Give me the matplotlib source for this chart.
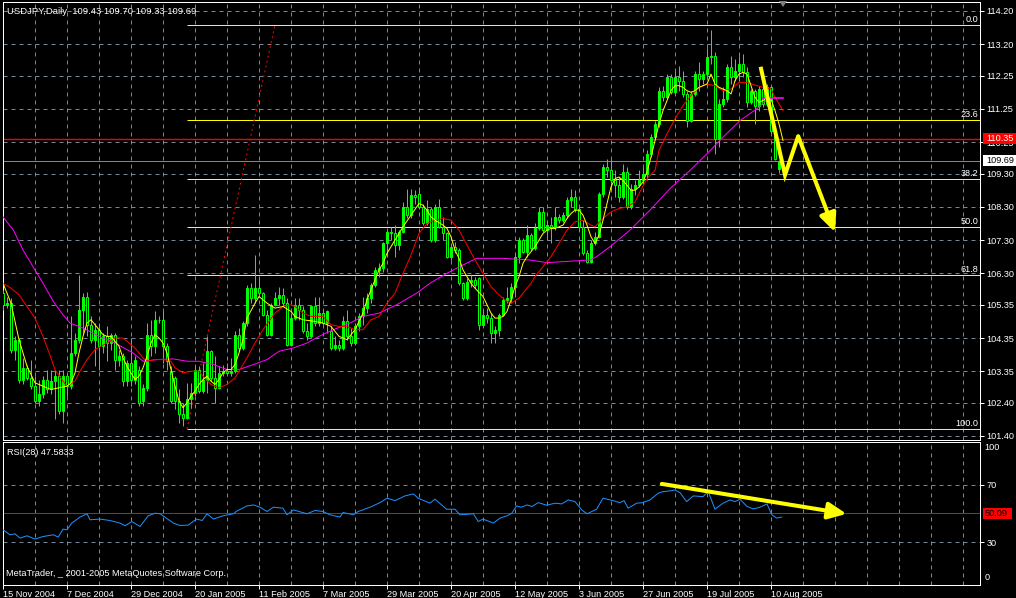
import matplotlib
matplotlib.use('Agg')
import matplotlib.pyplot as plt
import matplotlib.transforms as mtransforms
from matplotlib.patches import Rectangle, Polygon, FancyArrowPatch
import numpy as np

plt.rcParams['font.family'] = ['Liberation Sans', 'DejaVu Sans']

# ---------------- data ----------------
opens = [105.70,105.35,105.40,104.00,104.30,103.10,103.45,103.15,102.90,102.45,
         102.65,103.10,102.80,103.05,103.20,102.15,103.20,102.90,103.90,104.30,
         105.20,105.60,104.75,104.30,104.60,104.10,104.40,104.20,104.45,103.70,
         103.80,103.05,103.60,103.10,103.40,102.45,102.85,104.45,104.10,104.90,
         104.90,104.10,103.35,103.15,102.45,102.05,101.95,102.50,102.70,103.40,
         102.75,103.10,103.95,103.15,102.85,103.30,103.35,103.30,103.35,104.45,
         104.05,104.80,105.85,105.55,105.85,105.70,105.05,104.45,105.35,105.55,
         105.65,105.40,104.15,104.95,105.35,105.20,104.55,104.40,105.30,104.80,
         105.10,104.80,104.55,104.05,104.15,104.05,104.85,104.40,104.20,104.70,
         105.00,105.25,105.55,105.95,106.40,106.45,107.20,107.55,107.50,107.15,
         107.55,108.30,108.05,108.65,108.70,108.30,107.80,108.25,107.30,108.30,
         107.70,107.50,106.80,107.10,107.00,106.00,105.55,106.05,106.10,106.15,
         104.75,105.05,104.95,104.50,104.60,105.05,105.50,105.55,105.90,106.80,
         107.30,106.95,107.45,107.05,107.65,108.15,107.60,107.75,107.70,108.00,
         107.90,108.05,108.50,108.60,108.25,107.70,106.90,106.65,107.20,107.40,
         108.70,109.50,109.40,109.10,108.95,108.60,109.35,108.30,108.85,108.95,
         109.10,109.30,109.90,110.40,110.80,111.80,111.60,112.20,111.75,112.20,
         112.10,111.70,110.90,111.70,112.30,112.15,112.30,112.80,112.85,110.35,
         111.40,111.55,112.50,112.20,112.40,112.60,112.35,111.45,111.80,111.35,
         111.85,111.40,111.90,110.60,109.43]
highs = [105.80,105.60,105.55,104.40,104.35,103.75,103.55,103.70,103.20,103.10,
         103.20,103.40,103.40,103.40,103.40,103.40,103.30,105.00,104.50,106.25,
         105.70,105.75,105.00,104.80,104.80,104.50,104.70,104.50,104.50,104.00,
         103.90,103.70,104.35,103.80,103.50,102.95,104.80,104.90,105.15,105.00,
         105.15,104.20,103.50,103.20,102.80,102.40,103.00,103.00,103.50,103.50,
         103.60,104.40,104.00,103.80,103.50,103.55,103.60,103.75,104.55,104.65,
         104.85,105.95,106.00,106.85,106.20,105.75,105.20,105.40,105.75,105.90,
         105.85,105.55,105.10,105.55,105.55,105.30,104.80,105.35,105.60,105.60,
         105.20,105.20,104.70,104.40,104.30,105.00,105.20,104.65,104.80,105.10,
         105.60,105.70,106.00,106.50,106.60,107.25,107.60,107.70,107.75,107.60,
         108.45,108.85,108.85,108.80,108.90,108.40,108.50,108.30,108.40,108.55,
         108.00,107.55,107.20,107.25,107.05,106.05,106.15,106.25,106.20,106.20,
         105.20,105.25,105.10,104.70,105.10,105.60,105.90,106.00,106.90,107.40,
         107.35,107.75,107.50,107.80,108.30,108.30,107.90,108.00,108.30,108.10,
         108.15,108.60,108.85,108.80,108.30,107.90,107.00,107.30,107.55,108.75,
         109.60,109.75,109.75,109.40,109.20,109.60,109.50,109.00,109.10,109.40,
         109.50,110.00,110.50,110.90,111.90,111.95,112.30,112.30,112.40,112.55,
         112.40,111.80,111.80,112.40,112.65,112.40,113.10,113.63,112.95,111.55,
         111.90,112.60,112.85,112.75,112.85,112.90,112.50,111.85,111.85,111.95,
         111.95,112.00,111.95,110.70,109.70]
lows = [105.20,105.25,103.90,103.70,103.00,102.95,103.10,102.80,102.40,102.30,
        102.55,102.70,102.65,101.90,102.05,101.80,102.60,102.80,103.80,104.20,
        104.50,104.40,104.20,103.50,103.40,103.90,103.65,104.00,103.40,103.50,
        102.90,102.90,102.90,102.95,102.30,102.30,102.75,103.80,103.90,104.80,
        103.60,103.40,102.40,102.20,101.80,101.70,101.90,102.25,102.60,102.70,
        102.70,102.70,103.05,102.40,102.80,103.20,103.25,103.20,103.30,103.95,
        104.00,104.70,105.40,105.40,105.60,105.00,104.40,104.40,105.30,105.35,
        105.30,104.10,104.10,104.90,104.90,104.50,104.30,104.35,104.70,104.70,
        104.70,104.50,104.00,104.00,103.95,104.00,104.30,104.10,104.15,104.55,
        104.75,105.10,105.40,105.90,106.20,106.35,106.80,107.30,106.80,107.00,
        107.50,107.95,107.95,108.40,108.25,107.75,107.75,107.25,107.25,107.65,
        107.30,106.75,106.70,106.90,105.95,105.50,105.50,105.90,105.85,104.60,
        104.70,104.80,104.20,104.20,104.40,105.00,105.40,105.40,105.60,106.60,
        106.90,106.80,107.00,107.00,107.60,107.55,107.30,107.20,107.60,107.80,
        107.85,107.95,108.30,108.15,107.60,106.85,106.60,106.60,107.15,107.35,
        108.60,109.20,108.80,108.60,108.45,108.55,108.25,108.25,108.65,108.90,
        109.00,109.10,109.80,110.30,110.70,111.50,111.55,111.70,111.70,111.80,
        111.60,110.70,110.85,111.65,111.80,112.00,112.20,112.60,109.90,110.10,
        111.30,111.45,112.00,112.10,112.10,112.20,111.30,111.40,110.80,111.20,
        111.30,111.35,110.50,109.70,109.33]
closes = [105.35,105.40,104.00,104.30,103.10,103.45,103.15,102.90,102.45,102.65,
          103.10,102.80,103.05,103.20,102.15,103.20,102.90,103.90,104.30,105.20,
          105.60,104.75,104.30,104.60,104.10,104.40,104.20,104.45,103.70,103.80,
          103.05,103.60,103.10,103.70,102.40,102.85,104.45,104.10,104.90,104.90,
          104.10,103.65,102.45,102.45,102.05,101.95,102.50,102.70,103.40,102.75,
          103.10,103.95,103.15,102.85,103.30,103.35,103.30,103.35,104.45,104.05,
          104.80,105.85,105.55,105.85,105.70,105.05,104.45,105.35,105.55,105.65,
          105.40,104.15,104.95,105.35,105.20,104.55,104.40,105.30,104.80,105.10,
          104.80,105.15,104.05,104.15,104.05,104.85,104.40,104.20,104.70,105.00,
          105.25,105.55,105.95,106.40,106.45,107.20,107.55,107.50,107.15,107.55,
          108.30,108.05,108.65,108.60,108.30,107.80,108.25,107.30,108.30,107.70,
          107.50,106.80,107.10,107.00,106.00,105.55,106.05,106.10,105.95,104.75,
          105.05,104.95,104.50,104.60,105.05,105.50,105.55,105.90,106.80,107.30,
          106.95,107.45,107.05,107.65,108.15,107.60,107.75,107.70,108.00,107.90,
          108.05,108.50,108.60,108.25,107.70,106.90,106.65,107.20,107.40,108.70,
          109.50,109.40,109.10,108.95,108.60,109.35,108.30,108.85,108.95,109.10,
          109.30,109.90,110.40,110.80,111.80,111.60,112.20,111.75,112.20,112.10,
          111.70,110.90,111.70,112.30,112.15,112.30,112.80,112.85,110.35,111.40,
          111.55,112.50,112.20,112.40,112.60,112.35,111.45,111.80,111.35,111.85,
          111.40,111.90,110.60,109.75,109.69]

# moving averages: (bar, price)
ma_yellow = [(0,106.0),(2,105.4),(4,104.3),(6,103.5),(8,103.0),(10,102.9),(12,102.8),(14,102.85),
             (16,102.9),(17,103.0),(18,103.3),(19,103.9),(20,104.4),(21,104.8),(22,104.9),(23,104.75),
             (24,104.6),(25,104.45),(26,104.4),(27,104.4),(28,104.25),(29,104.1),(30,103.75),(31,103.5),
             (32,103.3),(33,103.1),(34,103.2),(35,103.45),(36,103.8),(37,104.2),(38,104.45),(39,104.35),
             (40,104.2),(41,103.9),(42,103.4),(43,102.9),(44,102.45),(45,102.25),(46,102.4),(47,102.6),
             (48,102.75),(49,102.95),(50,103.1),(51,103.2),(52,103.05),(53,102.95),(54,103.1),(55,103.3),
             (56,103.4),(57,103.4),(58,103.55),(59,103.9),(60,104.3),(61,104.95),(63,105.4),(64,105.6),
             (65,105.5),(66,105.4),(68,105.25),(70,105.3),(72,105.15),(73,105.0),(75,104.9),(78,104.85),
             (80,104.8),(82,104.7),(84,104.4),(86,104.3),(88,104.6),(90,105.1),(91,105.5),(92,105.8),
             (93,106.1),(94,106.4),(95,106.6),(96,106.9),(97,107.1),(99,107.5),(100,107.7),(102,108.05),
             (104,108.4),(105,108.35),(106,108.2),(107,108.0),(108,107.9),(110,107.75),(111,107.65),
             (112,107.4),(113,107.0),(114,106.75),(115,106.4),(116,106.2),(117,106.0),(118,105.85),
             (120,105.6),(121,105.35),(122,105.1),(123,104.95),(124,104.95),(125,105.0),(126,105.15),
             (127,105.5),(128,105.9),(129,106.2),(130,106.6),(131,106.8),(132,106.95),(133,107.1),
             (134,107.3),(135,107.5),(136,107.6),(137,107.65),(138,107.65),(140,107.75),(141,107.95),
             (142,108.1),(143,108.2),(144,108.2),(145,108.05),(146,107.75),(147,107.4),(148,107.2),
             (149,107.45),(150,107.9),(151,108.4),(152,108.9),(153,109.15),(154,109.2),(155,109.1),
             (156,108.95),(157,108.8),(158,108.8),(159,108.9),(160,109.05),(161,109.35),(162,109.8),
             (163,110.3),(164,110.8),(165,111.2),(166,111.5),(167,111.8),(168,111.95),(169,111.95),
             (170,111.9),(171,111.8),(172,111.75),(173,111.8),(174,111.9),(175,111.95),(176,112.0),
             (177,112.3),(178,112.0),(179,111.9),(180,111.85),(181,111.8),(182,111.7),(183,112.1),
             (184,112.3),(185,112.35),(186,112.3),(187,111.95),(188,111.6),(189,111.45),(190,111.5),
             (191,111.6),(192,111.55),(193,111.2),(194,110.8),(195,110.3)]
ma_red = [(0,106.0),(2,105.85),(4,105.65),(6,105.3),(8,104.95),(10,104.4),(12,103.75),(13,103.4),
          (15,103.05),(16,102.9),(18,103.05),(19,103.3),(21,103.7),(23,104.0),(26,104.2),(28,104.35),
          (30,104.35),(31,104.25),(33,104.05),(35,103.75),(36,103.65),(38,103.7),(40,103.7),(42,103.65),
          (43,103.45),(45,103.3),(47,103.35),(49,103.35),(50,103.2),(52,102.95),(54,102.85),(56,102.95),
          (58,103.15),(59,103.35),(61,103.75),(63,104.2),(65,104.6),(68,105.1),(70,105.3),(72,105.35),
          (73,105.3),(75,105.1),(77,105.0),(80,105.0),(82,104.75),(84,104.7),(86,104.7),(88,104.6),
          (90,104.6),(92,104.9),(94,105.0),(96,105.4),(98,105.7),(100,106.3),(102,106.85),(104,107.5),
          (106,107.8),(108,107.9),(110,107.95),(112,107.9),(114,107.6),(116,107.15),(118,106.7),
          (120,106.3),(122,105.9),(124,105.65),(126,105.45),(127,105.4),(129,105.55),(130,105.7),
          (132,106.0),(133,106.2),(135,106.5),(137,106.8),(139,107.2),(141,107.6),(143,107.85),
          (145,107.9),(147,107.75),(148,107.7),(150,107.95),(152,108.15),(154,108.25),(156,108.3),
          (158,108.45),(159,108.7),(161,109.15),(163,109.4),(164,110.0),(166,110.5),(168,110.95),
          (170,111.35),(172,111.65),(174,111.9),(176,112.0),(178,111.95),(180,111.8),(182,111.85),
          (184,112.05),(186,112.05),(188,111.97),(190,111.9),(192,111.85),(193,111.6),(195,111.2)]
ma_magenta = [(0,108.0),(2.6,107.6),(5,107.0),(7.5,106.5),(10,106.0),(12.6,105.45),(15,105.05),
              (16.75,104.8),(20,104.65),(24,104.4),(28,104.2),(32.5,103.9),(35,103.65),(38.5,103.7),
              (42.6,103.72),(46,103.65),(49,103.65),(52.6,103.55),(56,103.4),(59,103.4),(62.6,103.55),
              (66,103.7),(69,103.95),(72.6,104.05),(76,104.2),(79,104.4),(82.6,104.6),(86.75,104.8),
              (90,105.0),(94,105.1),(98.4,105.35),(103.4,105.7),(106.75,106.0),(111,106.3),(115,106.55),
              (118.4,106.75),(122,106.75),(125,106.75),(131.75,106.7),(136,106.62),(140,106.65),
              (146.75,106.7),(148.4,106.8),(151.75,107.1),(156.75,107.6),(161.75,108.2),(166.75,108.85),
              (171.75,109.4),(176,109.9),(180,110.4),(184.25,110.9),(188.4,111.25),(191.5,111.58)]
magenta_flat = [(190, 111.58), (195, 111.58)]

rsi = [(0,38.6),(1.75,35.1),(3,35.8),(4.25,32.8),(6,34.4),(8,32.1),(10,33.9),(12.6,35.1),(13.8,33.5),
       (15,39.1),(16,38.6),(17.2,43.3),(19.25,47.5),(21,49.8),(21.75,45.6),(24.25,46.1),(26.75,45.1),
       (29.25,43.3),(30.5,41.4),(32.2,44.4),(34.25,40.9),(36.3,48.4),(38,50.2),(39.3,49.8),(42.6,43.3),
       (44.25,41.6),(46.3,41.9),(48.4,46.1),(49.8,45.1),(51,49.8),(52.6,46.1),(55,48.4),(57.6,49.8),
       (58.4,51.6),(61,55.3),(62.6,56.0),(64.25,54.4),(66,51.4),(67.6,54.4),(70,53.7),(71,49.1),
       (72.6,52.5),(76,49.8),(78,52.1),(80,51.4),(81.75,49.1),(84.25,47.5),(85,50.7),(87.6,49.1),
       (88.8,51.4),(91.75,54.4),(94.25,57.6),(96,60.7),(98,59.0),(100.5,62.3),(102.6,63.7),
       (103.8,60.7),(106.75,57.2),(108,60.0),(110.9,53.0),(113,53.0),(114.25,49.1),(117.6,49.8),
       (118.8,44.4),(120,46.1),(122.6,43.3),(124.25,46.8),(126,48.4),(127.2,50.2),(128.4,55.3),
       (129.6,54.4),(131,56.0),(132.25,54.9),(133.8,57.6),(135.9,55.8),(138,57.2),(139.7,56.7),
       (141.3,59.5),(143,58.3),(144.7,52.5),(146,49.8),(148.4,53.0),(150,60.7),(152.5,59.0),
       (154.2,57.6),(155.25,59.0),(156.3,53.7),(158.4,57.2),(160,57.6),(161.75,59.5),(163.8,64.2),
       (165,65.3),(166.75,65.8),(168,66.5),(169.25,64.6),(170.9,58.3),(172.6,62.3),(175,61.8),
       (176.3,65.3),(178,53.0),(180,57.2),(181.75,59.5),(183,58.3),(184.25,60.0),(186,54.9),
       (187.6,53.2),(189.25,54.4),(191,56.7),(192.2,49.1),(193.4,46.8),(194.7,47.5)]

price_ticks = [114.20, 113.20, 112.25, 111.25, 110.25, 109.30, 108.30, 107.30,
               106.30, 105.35, 104.35, 103.35, 102.40, 101.40]
rsi_ticks = [70, 30]
date_bars = [0, 16, 32, 48, 64, 80, 96, 112, 128, 144, 160, 176, 192]
date_labels = ['15 Nov 2004', '7 Dec 2004', '29 Dec 2004', '20 Jan 2005', '11 Feb 2005',
               '7 Mar 2005', '29 Mar 2005', '20 Apr 2005', '12 May 2005', '3 Jun 2005',
               '27 Jun 2005', '19 Jul 2005', '10 Aug 2005']

fib_low_bar, fib_low = 46, 101.61
fib_high_bar, fib_high = 68, 113.78
fib_ratios = [0.0, 23.6, 38.2, 50.0, 61.8, 100.0]

red_level = 110.35
bid_level = 109.69
rsi_level = 50.09

# hand-drawn arrows (bar, value)
main_path = [(189.4, 112.52), (195.5, 109.26), (198.8, 110.43)]
main_tip = (208.0, 107.54)
rsi_arrow = [(164.7, 70.7), (210.9, 49.75)]

# ---------------- figure ----------------
W, H = 1016, 598
fig = plt.figure(figsize=(W / 100, H / 100), dpi=100)
fig.patch.set_facecolor('black')


def frac(x0, y0, x1, y1):
    return [x0 / W, 1 - y1 / H, (x1 - x0) / W, (y1 - y0) / H]


PX = 0.72
LIME = '#00ff00'
GRID = '#778899'
DASH = (0, (4, 4))
FS = 6.6

ax = fig.add_axes(frac(2.7, 2, 980.3, 440))
ax2 = fig.add_axes(frac(2.7, 442, 980.3, 585))
for a in (ax, ax2):
    a.set_facecolor('black')
    for s in a.spines.values():
        s.set_color('white')
        s.set_linewidth(PX)
    a.set_xlim(-0.075, 244.325)
    for b in range(8, 245, 8):
        a.axvline(b, color=GRID, lw=PX, ls=DASH, zorder=1)
ax.set_ylim(101.278, 114.471)
ax2.set_ylim(0, 100)

for p in price_ticks:
    ax.axhline(p, color=GRID, lw=PX, ls=DASH, zorder=1)
for r in rsi_ticks:
    ax2.axhline(r, color=GRID, lw=PX, ls=DASH, zorder=1)

# fibonacci
fib_levels = [fib_high - r / 100.0 * (fib_high - fib_low) for r in fib_ratios]
ax.hlines(fib_levels, fib_low_bar, 244.325, color='#ffff00', lw=PX, zorder=2)
ax.plot([fib_low_bar, fib_high_bar], [fib_low, fib_high], color='red', lw=PX,
        ls=(0, (2, 3)), zorder=2)
bt = mtransforms.blended_transform_factory(ax.transAxes, ax.transData)
for r, lv in zip(fib_ratios, fib_levels):
    ax.annotate(f'{r:.1f}', xy=(1, lv), xycoords=bt, xytext=(-2, 1),
                textcoords='offset pixels', ha='right', va='bottom',
                color='white', fontsize=FS, zorder=3)

ax.axhline(red_level, color='red', lw=1.0, zorder=2)
ax.axhline(bid_level, color=GRID, lw=PX, zorder=2)
ax2.axhline(rsi_level, color='red', lw=PX, zorder=2)

# candles
O = np.array(opens); Hh = np.array(highs); L = np.array(lows); C = np.array(closes)
xb = np.arange(len(C))
up = C >= O
ax.vlines(xb, L, Hh, color=LIME, lw=PX, zorder=3)
ax.bar(xb[up], (C - O)[up], bottom=O[up], width=0.55, color=LIME,
       edgecolor=LIME, lw=PX, zorder=3)
ax.bar(xb[~up], (O - C)[~up], bottom=C[~up], width=0.55, color='black',
       edgecolor=LIME, lw=PX, zorder=3)

# moving averages
for series, col in ((ma_magenta, '#ff00ff'), (ma_red, '#ff0000'), (ma_yellow, '#ffff00')):
    bx, by = zip(*series)
    ax.plot(bx, by, color=col, lw=PX, zorder=4)
fx, fy = zip(*magenta_flat)
ax.plot(fx, fy, color='#ff00ff', lw=1.2, zorder=4)

# RSI
rx, ry = zip(*rsi)
ax2.plot(rx, ry, color='#1e90ff', lw=PX, zorder=4)

# arrows
px_, py_ = zip(*main_path)
ax.plot(px_, py_, color='#ffff00', lw=2.9, solid_joinstyle='miter',
        solid_capstyle='butt', zorder=6)
ax.add_patch(FancyArrowPatch(main_path[-1], main_tip,
                             arrowstyle='-|>,head_length=11,head_width=5',
                             mutation_scale=1, color='#ffff00', lw=2.9,
                             shrinkA=0, shrinkB=0, zorder=6))
ax2.add_patch(FancyArrowPatch(rsi_arrow[0], rsi_arrow[1],
                              arrowstyle='-|>,head_length=11,head_width=5',
                              mutation_scale=1, color='#ffff00', lw=2.9,
                              shrinkA=0, shrinkB=0, zorder=6))

# axes ticks
ax.yaxis.tick_right()
ax.set_yticks(price_ticks)
ax.set_yticklabels([f'{p:.2f}' for p in price_ticks])
ax.tick_params(axis='y', colors='white', labelsize=FS, length=3, width=PX,
               pad=1.5, labelcolor='white')
ax.tick_params(axis='x', bottom=False, labelbottom=False)

ax2.yaxis.tick_right()
ax2.set_yticks(rsi_ticks)
ax2.set_yticklabels([str(r) for r in rsi_ticks])
ax2.tick_params(axis='y', colors='white', labelsize=FS, length=3, width=PX, pad=1.5)
bt2 = mtransforms.blended_transform_factory(ax2.transAxes, ax2.transData)
ax2.annotate('100', xy=(1, 100), xycoords=bt2, xytext=(4, -6), textcoords='offset pixels',
             ha='left', va='center', color='white', fontsize=FS, annotation_clip=False)
ax2.annotate('0', xy=(1, 0), xycoords=bt2, xytext=(4, 7), textcoords='offset pixels',
             ha='left', va='center', color='white', fontsize=FS, annotation_clip=False)
ax2.set_xticks(date_bars)
ax2.set_xticklabels(date_labels, ha='left')
ax2.tick_params(axis='x', colors='white', labelsize=FS, length=3, width=PX, pad=0.5)

# price boxes
bfig = mtransforms.blended_transform_factory(fig.transFigure, ax.transData)
fig.add_artist(Rectangle((983 / W, red_level - 0.17), 33 / W, 0.34, transform=bfig,
                         facecolor='red', edgecolor='none', zorder=10))
fig.text(986 / W, red_level, f'{red_level:.2f}', transform=bfig, color='white',
         fontsize=FS, va='center', ha='left', zorder=11)
fig.add_artist(Rectangle((983 / W, bid_level - 0.17), 33 / W, 0.34, transform=bfig,
                         facecolor='white', edgecolor='none', zorder=10))
fig.text(986 / W, bid_level, f'{bid_level:.2f}', transform=bfig, color='black',
         fontsize=FS, va='center', ha='left', zorder=11)
bfig2 = mtransforms.blended_transform_factory(fig.transFigure, ax2.transData)
fig.add_artist(Rectangle((983 / W, rsi_level - 3.6), 29 / W, 7.2, transform=bfig2,
                         facecolor='red', edgecolor='none', zorder=10))
fig.text(985 / W, rsi_level, f'{rsi_level:.2f}', transform=bfig2, color='black',
         fontsize=FS, va='center', ha='left', zorder=11)

# labels
fig.text(7 / W, 1 - 14.5 / H, 'USDJPY,Daily  109.43 109.70 109.33 109.69', color='white',
         fontsize=6.8, va='baseline', ha='left')
fig.text(7 / W, 1 - 455 / H, 'RSI(28) 47.5833', color='white', fontsize=FS,
         va='baseline', ha='left')
fig.text(6 / W, 1 - 576.5 / H, 'MetaTrader, _ 2001-2005 MetaQuotes Software Corp.',
         color='white', fontsize=FS, va='baseline', ha='left')

# chart shift marker
fig.add_artist(Polygon([(779 / W, 1 - 1 / H), (787 / W, 1 - 1 / H), (783 / W, 1 - 7 / H)],
                       closed=True, transform=fig.transFigure, facecolor='#808080',
                       edgecolor='none', zorder=10))

fig.savefig('out.png', dpi=100, facecolor='black')
